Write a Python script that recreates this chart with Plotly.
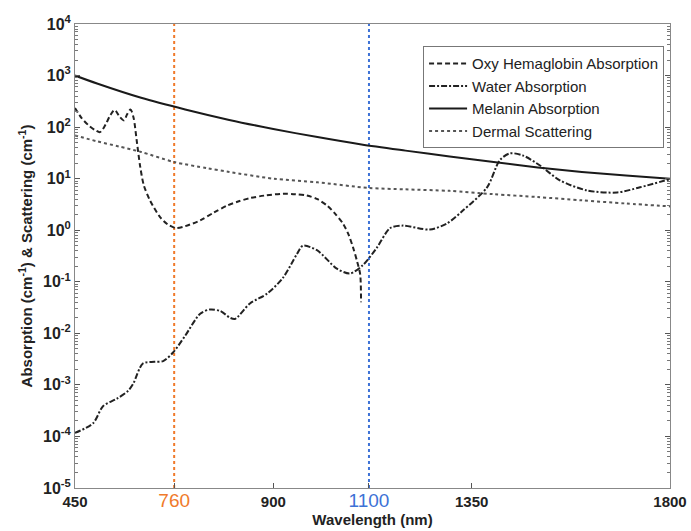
import plotly.graph_objects as go

# ---------------- data ----------------
oxy_wl = [450, 465, 480, 495, 507, 520, 530, 540, 551, 561, 568, 576, 583, 590, 598, 606,
          620, 643, 660, 679, 700, 734, 765, 795, 820, 847, 880, 922, 950, 976, 1000, 1022,
          1040, 1058, 1070, 1081, 1090, 1097, 1099]
oxy_val = [235, 150, 110, 88, 80, 115, 170, 215, 160, 135, 175, 220, 150, 55, 17, 7.5,
           3.8, 1.8, 1.3, 1.1, 1.2, 1.55, 2.2, 3.0, 3.6, 4.2, 4.7, 5.1, 5.0, 4.7, 4.0, 3.0,
           2.1, 1.35, 0.85, 0.46, 0.25, 0.14, 0.04]

water_wl = [450, 491, 514, 545, 570, 582, 604, 630, 650, 672, 700, 734, 756, 780, 802, 813,
            847, 886, 922, 954, 967, 999, 1044, 1074, 1103, 1135, 1165, 1194, 1255, 1294,
            1330, 1385, 1414, 1437, 1467, 1505, 1550, 1612, 1680, 1732, 1800]
water_val = [1.17e-4, 1.8e-4, 3.9e-4, 5.4e-4, 7.6e-4, 1.05e-3, 2.6e-3, 2.8e-3, 2.9e-3, 4.2e-3,
             9e-3, 0.024, 0.029, 0.027, 0.020, 0.019, 0.038, 0.059, 0.12, 0.35, 0.50, 0.41,
             0.18, 0.145, 0.21, 0.46, 1.1, 1.23, 1.03, 1.35, 2.4, 6.8, 23, 31, 28, 18, 9.3,
             5.9, 5.4, 6.8, 9.8]

melanin_wl = [450, 500, 600, 700, 800, 900, 1000, 1100, 1200, 1300, 1400, 1500, 1600, 1700, 1800]
melanin_val = [1000, 700, 370, 220, 138, 92, 64, 46, 35, 27, 21, 16.5, 13.5, 11.5, 10]

dermal_wl = [450, 500, 550, 600, 675, 750, 800, 900, 1000, 1117, 1200, 1300, 1400, 1500, 1600, 1700, 1800]
dermal_val = [69, 53, 42, 33, 21, 16, 13.5, 10, 8.5, 6.6, 6.2, 5.8, 5.0, 4.4, 3.8, 3.3, 2.9]

series_names = ["Oxy Hemaglobin Absorption", "Water Absorption",
                "Melanin Absorption", "Dermal Scattering"]

# vertical marker lines (drawn where the reference draws them) and their labels
marker_pos = [675, 1117]
marker_labels = ["760", "1100"]
marker_colors = ["#f07a2a", "#3d72d6"]

xtick_vals = [450, 900, 1350, 1800]
xtick_text = ["450", "900", "1350", "1800"]

ytick_exps = [-5, -4, -3, -2, -1, 0, 1, 2, 3, 4]

# ---------------- figure ----------------
fig = go.Figure()

for pos, col in zip(marker_pos, marker_colors):
    fig.add_trace(go.Scatter(x=[pos, pos], y=[1e-5, 1e4], mode="lines",
                             line=dict(color=col, width=2, dash="dot"),
                             showlegend=False, hoverinfo="skip"))

styles = [dict(dash="5px,3px", color="#222222", width=2),
          dict(dash="6px,2px,2px,2px", color="#222222", width=2),
          dict(dash="solid", color="#1a1a1a", width=2),
          dict(dash="dot", color="#555555", width=2)]
data = [(oxy_wl, oxy_val), (water_wl, water_val),
        (melanin_wl, melanin_val), (dermal_wl, dermal_val)]

for (xs, ys), name, st in zip(data, series_names, styles):
    fig.add_trace(go.Scatter(x=xs, y=ys, mode="lines", name=name,
                             line=dict(shape="spline", smoothing=0.8, **st)))

tv = list(xtick_vals) + list(marker_pos)
tt = list(xtick_text) + [
    f"<span style='color:{c};font-size:19px;font-weight:normal'>{t}</span>"
    for t, c in zip(marker_labels, marker_colors)]

ytv = [10.0 ** e for e in ytick_exps]
ytt = [f"10<sup>{e}</sup>" for e in ytick_exps]

font_family = "Liberation Sans, Arial, sans-serif"
fig.update_layout(
    width=691, height=531,
    margin=dict(l=75, r=21, t=24, b=43, autoexpand=False),
    paper_bgcolor="white", plot_bgcolor="white",
    font=dict(family=font_family, color="#222222", size=14),
    showlegend=True,
    legend=dict(x=0.585, y=0.952, xanchor="left", yanchor="top",
                bgcolor="white", bordercolor="#777777", borderwidth=1,
                font=dict(size=15, color="#222222"), tracegroupgap=0,
                itemwidth=38),
    xaxis=dict(range=[450, 1800], tickvals=tv, ticktext=tt, automargin=False,
               ticks="inside", ticklen=5, tickcolor="#555555",
               showline=True, linecolor="#888888", linewidth=1, mirror=True,
               showgrid=False, zeroline=False,
               tickfont=dict(size=15, color="#222222", weight="bold"),
               title=dict(text="Wavelength (nm)", standoff=1,
                          font=dict(size=15, color="#222222", weight="bold"))),
    yaxis=dict(type="log", range=[-5, 4], tickvals=ytv, ticktext=ytt, automargin=False,
               ticks="inside", ticklen=5, tickcolor="#555555",
               minor=dict(ticks="inside", ticklen=3, tickcolor="#777777", showgrid=False,
                          dtick="D1"),
               showline=True, linecolor="#888888", linewidth=1, mirror="ticks",
               showgrid=False, zeroline=False,
               tickfont=dict(size=16, color="#222222", weight="bold"),
               title=dict(text="Absorption (cm<sup>-1</sup>) & Scattering (cm<sup>-1</sup>)",
                          standoff=6, font=dict(size=15, color="#222222", weight="bold"))),
)

fig.write_html("out.html")
